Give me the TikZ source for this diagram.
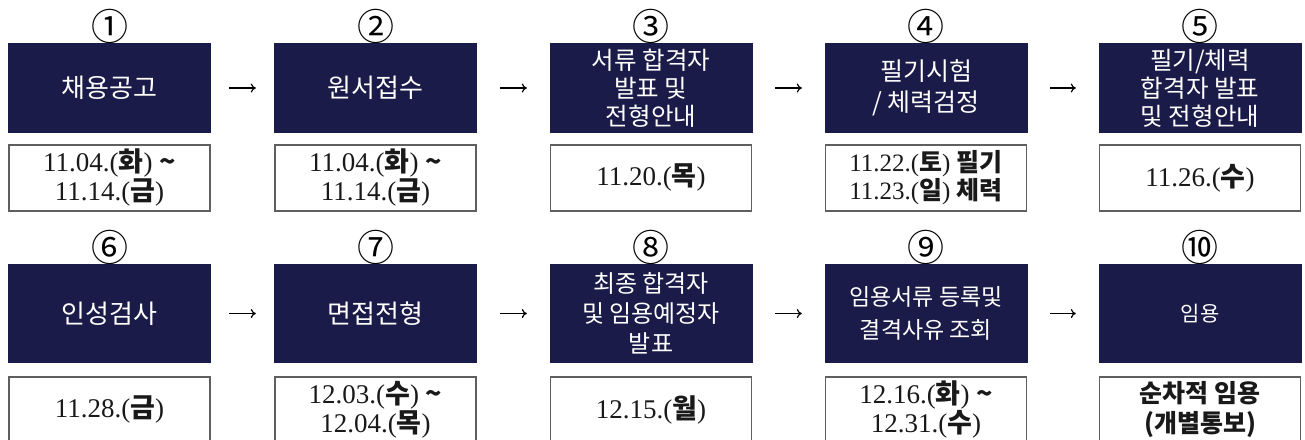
\documentclass[tikz,border=0pt]{standalone}
\usepackage{fontspec}
\setmainfont{Liberation Serif}
\newfontfamily\kr{Noto Sans CJK KR}
\usetikzlibrary{positioning,arrows.meta}
\definecolor{navy}{RGB}{26,27,72}
\definecolor{framegray}{RGB}{95,95,95}
\newcommand{\hg}[1]{{\kr\bfseries #1}}
\begin{document}
\begin{tikzpicture}[x=1pt,y=-1pt,
    stage/.style={fill=navy,text=white,minimum width=203pt,inner sep=0pt,align=center,
      font=\kr\fontsize{26}{30}\selectfont},
    stagesmall/.style={stage,font=\kr\fontsize{24.5}{28}\selectfont},
    datebox/.style={draw=framegray,line width=1.3pt,fill=white,minimum width=201pt,
      minimum height=66pt,inner sep=0pt,align=center,text=black!90,
      font=\fontsize{27}{29}\selectfont},
    stepno/.style={inner sep=0pt,font=\kr\fontsize{37}{37}\selectfont},
    arr/.style={-{To[length=5pt,width=9pt]},line width=1.2pt}]
  \useasboundingbox (0,0) rectangle (1305,439);
  \clip (0,0) rectangle (1305,439);
  % 1단계 - 5단계
  \node[stage,minimum height=90pt] (s1) at (109.5,88) {채용공고};
  \node[stage,minimum height=90pt] (s2) at (375.5,88) {원서접수};
  \node[stagesmall,minimum height=90pt] (s3) at (651,88) {서류 합격자\\발표 및\\전형안내};
  \node[stage,minimum height=90pt,font=\kr\fontsize{25}{31}\selectfont] (s4) at (926,88) {필기시험\\/ 체력검정};
  \node[stagesmall,minimum height=90pt] (s5) at (1200,88) {필기/체력\\합격자 발표\\및 전형안내};
  % 6단계 - 10단계
  \node[stage,minimum height=99pt] (s6) at (109.5,313.5) {인성검사};
  \node[stage,minimum height=99pt] (s7) at (375.5,313.5) {면접전형};
  \node[stagesmall,minimum height=99pt,font=\kr\fontsize{24}{30}\selectfont] (s8) at (651,313.5) {최종 합격자\\및 임용예정자\\발표};
  \node[stagesmall,minimum height=99pt,font=\kr\fontsize{23}{33}\selectfont] (s9) at (926,313.5) {임용서류 등록및\\결격사유 조회};
  \node[stage,minimum height=99pt,font=\kr\fontsize{21}{24}\selectfont] (s10) at (1200,313.5) {임용};
  % 일정
  \node[datebox,below=11pt of s1] (d1) {11.04.(\hg{화}) \hg{\textasciitilde}\\11.14.(\hg{금})};
  \node[datebox,below=11pt of s2] (d2) {11.04.(\hg{화}) \hg{\textasciitilde}\\11.14.(\hg{금})};
  \node[datebox,below=11pt of s3] (d3) {11.20.(\hg{목})};
  \node[datebox,below=11pt of s4,font=\fontsize{25}{28}\selectfont] (d4) {11.22.(\hg{토}) \hg{필기}\\11.23.(\hg{일}) \hg{체력}};
  \node[datebox,below=11pt of s5] (d5) {11.26.(\hg{수})};
  \node[datebox,below=13pt of s6] (d6) {11.28.(\hg{금})};
  \node[datebox,below=13pt of s7] (d7) {12.03.(\hg{수}) \hg{\textasciitilde}\\12.04.(\hg{목})};
  \node[datebox,below=13pt of s8] (d8) {12.15.(\hg{월})};
  \node[datebox,below=13pt of s9] (d9) {12.16.(\hg{화}) \hg{\textasciitilde}\\12.31.(\hg{수})};
  \node[datebox,below=13pt of s10,font=\kr\bfseries\fontsize{25}{30}\selectfont] (d10) {순차적 임용\\(개별통보)};
  % 번호
  \foreach \n/\c in {1/①,2/②,3/③,4/④,5/⑤,6/⑥,7/⑦,8/⑧,9/⑨,10/⑩}
    \path (s\n.north) ++(0,-16) node[stepno] (c\n) {\c};
  % 화살표
  \foreach \a/\b/\s in {s1/s2/18,s2/s3/22.5,s3/s4/22.5,s4/s5/22.5,s6/s7/18,s7/s8/22.5,s8/s9/22.5,s9/s10/22.5}
    \draw[arr,shorten <=\s pt,shorten >=\s pt] (\a) -- (\b);
\end{tikzpicture}
\end{document}
